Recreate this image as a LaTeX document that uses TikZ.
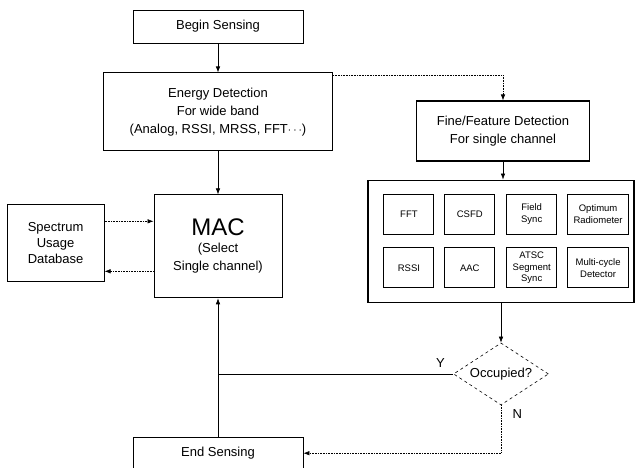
\documentclass[tikz,border=0pt]{standalone}
\usepackage{fontspec}
\setmainfont{Liberation Sans}
\usetikzlibrary{arrows.meta,positioning,shapes.geometric}

\begin{document}
\begin{tikzpicture}[x=1pt, y=-1pt, >={Latex[length=6pt,width=4.5pt]},
  font=\fontsize{13}{18}\selectfont,
  box/.style={draw, line width=0.9pt, inner sep=0pt, align=center},
  cell/.style={draw, line width=0.9pt, inner sep=0pt, align=center, minimum width=50pt, minimum height=40pt, font=\fontsize{9.5}{11.5}\selectfont},
  flow/.style={->, line width=0.6pt},
  link/.style={->, line width=0.6pt, densely dotted}]
  \useasboundingbox (0,0) rectangle (637,467);

  % left column
  \node[box, minimum width=170pt, minimum height=33pt] (begin) at (218,26.5) {Begin Sensing};
  \node[box, minimum width=229pt, minimum height=78pt, below=29pt of begin] (energy) {Energy Detection\\For wide band\\(Analog, RSSI, MRSS, FFT$\cdots$)};
  \node[box, minimum width=128pt, minimum height=103pt, below=43pt of energy] (mac) {{\fontsize{24}{26}\selectfont MAC}\\[-1pt]{\fontsize{13}{16}\selectfont (Select}\\{\fontsize{13}{16}\selectfont Single channel)}};
  \node[box, minimum width=97pt, minimum height=77pt, left=49pt of mac, yshift=3pt, font=\fontsize{13}{16}\selectfont] (sud) {Spectrum\\Usage\\Database};
  \node[box, minimum width=170pt, minimum height=31pt, below=139pt of mac] (end) {End Sensing};

  % right column
  \node[box, line width=1.1pt, minimum width=173pt, minimum height=60pt, below right=28pt and 83pt of energy.north east] (fine) {Fine/Feature Detection\\For single channel};
  \node[box, line width=1.1pt, minimum width=266pt, minimum height=122pt, below=18pt of fine, xshift=-2pt] (panel) {};
  \node[cell, below right=14pt and 16pt of panel.north west] (fft) {FFT};
  \node[cell, right=10pt of fft] (csfd) {CSFD};
  \node[cell, right=11pt of csfd] (field) {Field\\Sync};
  \node[cell, minimum width=61pt, right=10pt of field] (optr) {Optimum\\Radiometer};
  \node[cell, below=13pt of fft] (rssi) {RSSI};
  \node[cell, below=13pt of csfd] (aac) {AAC};
  \node[cell, below=13pt of field] (atsc) {ATSC\\Segment\\Sync};
  \node[cell, minimum width=61pt, below=13pt of optr] (multi) {Multi-cycle\\Detector};
  \node[draw, dashed, line width=0.6pt, diamond, aspect=1.6, inner sep=0pt, minimum width=95pt, minimum height=62pt, below=40pt of panel] (occ) {Occupied?};
  \node[above left=3pt and 5pt of occ.west] (ylbl) {Y};
  \node[below right=1pt and 8pt of occ.south] (nlbl) {N};

  % connectors
  \coordinate (m1) at ([yshift=25pt]mac.west);
  \coordinate (m2) at ([yshift=-25pt]mac.west);
  \draw[flow] (begin) -- (energy);
  \draw[flow] (energy) -- (mac);
  \draw[link] ([yshift=-3pt]energy.north east) -| (fine.north);
  \draw[flow] (fine.south) -- (fine.south |- panel.north);
  \draw[flow] (panel) -- (occ);
  \draw[link] (sud.east |- m1) -- (m1);
  \draw[link] (m2) -- (sud.east |- m2);
  \draw[flow] (end) -- (mac);
  \draw[line width=0.6pt] (occ.west) -- (occ.west -| end.north);
  \draw[link] (occ.south) |- (end.east);
\end{tikzpicture}
\end{document}
